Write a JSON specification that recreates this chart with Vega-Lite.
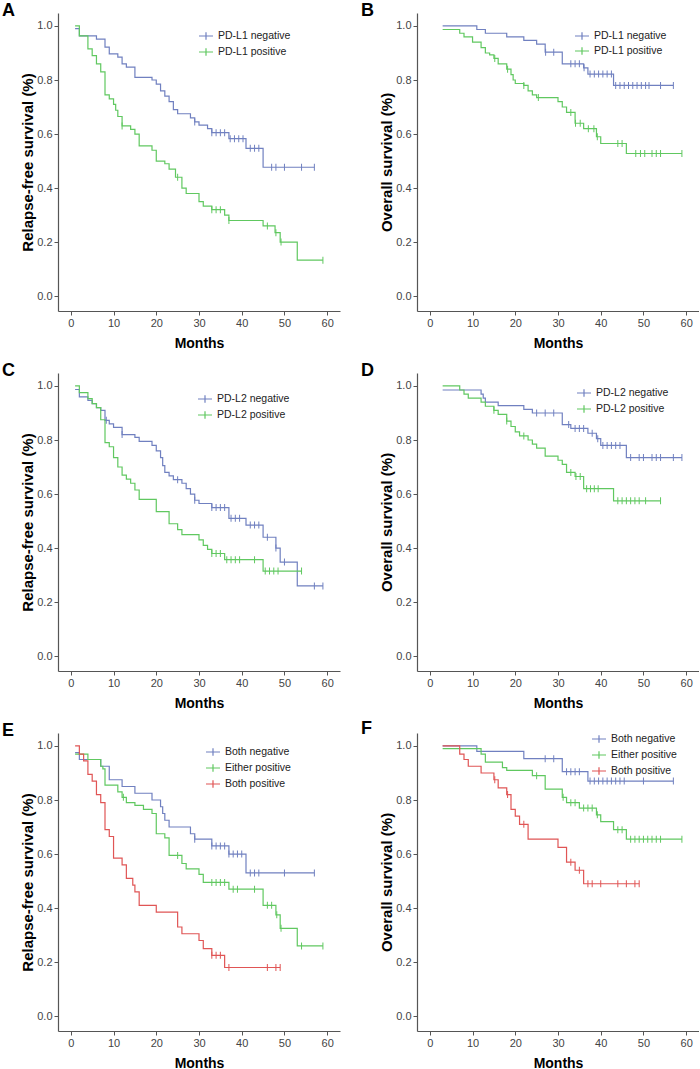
{
"$schema": "https://vega.github.io/schema/vega-lite/v6.json",
"background": "white",
"padding": {"left": 2, "top": 2, "right": 0, "bottom": 0},
"bounds": "flush",
"columns": 2,
"spacing": {"row": 62, "column": 77},
"resolve": {"scale": {"color": "independent", "x": "independent", "y": "independent"}, "legend": {"color": "independent"}, "axis": {"x": "independent", "y": "independent"}},
"config": {
  "view": {"stroke": null},
  "font": "Liberation Sans",
  "axis": {"grid": false, "domainColor": "#555", "tickColor": "#555", "labelColor": "#444", "labelFont": "Liberation Sans", "labelFontSize": 11, "titleFont": "Liberation Sans", "titleFontWeight": "bold", "titleColor": "#000", "tickSize": 4, "domainWidth": 1.2, "tickWidth": 1},
  "axisX": {"titleFontSize": 14, "titlePadding": 8},
  "axisY": {"titleFontSize": 15, "titlePadding": 1},
  "legend": {"orient": "none", "title": null, "padding": 0, "symbolType": "M-1,0H1M0,-0.55V0.55", "symbolSize": 196, "symbolStrokeWidth": 1, "labelFont": "Liberation Sans", "labelFontSize": 10.5, "labelColor": "#222", "labelOffset": 4, "rowPadding": 1},
  "title": {"anchor": "start", "frame": "group", "orient": "top", "offset": 0, "baseline": "alphabetic", "dx": -56, "dy": 11, "fontSize": 18, "fontWeight": "bold", "font": "Liberation Sans", "color": "#000"},
  "line": {"interpolate": "step-after", "strokeWidth": 1.2},
  "tick": {"orient": "vertical", "size": 7, "thickness": 1, "opacity": 1}
},
"concat": [
{
 "title": {"text": "A"},
 "data": {"name": "A"},
 "width": 282, "height": 298,
 "encoding": {
  "x": {"field": "t", "type": "quantitative", "scale": {"domain": [-3, 63], "nice": false, "zero": false}, "axis": {"title": "Months", "values": [0, 10, 20, 30, 40, 50, 60]}},
  "y": {"field": "s", "type": "quantitative", "scale": {"domain": [-0.055, 1.048], "nice": false}, "axis": {"title": "Relapse-free survival (%)", "values": [0, 0.2, 0.4, 0.6, 0.8, 1.0], "format": ".1f"}},
  "color": {"field": "g", "type": "nominal", "scale": {"domain": ["PD-L1 negative", "PD-L1 positive"], "range": ["#7080c0", "#60c860"]}, "legend": {"legendX": 140, "legendY": 15}}
 },
 "layer": [
  {"transform": [{"filter": "datum.c == 0"}], "mark": {"type": "line"}},
  {"transform": [{"filter": "datum.c == 1"}], "mark": {"type": "tick"}}
 ]
},
{
 "title": {"text": "B"},
 "data": {"name": "B"},
 "width": 282, "height": 298,
 "encoding": {
  "x": {"field": "t", "type": "quantitative", "scale": {"domain": [-3, 63], "nice": false, "zero": false}, "axis": {"title": "Months", "values": [0, 10, 20, 30, 40, 50, 60]}},
  "y": {"field": "s", "type": "quantitative", "scale": {"domain": [-0.055, 1.048], "nice": false}, "axis": {"title": "Overall survival (%)", "values": [0, 0.2, 0.4, 0.6, 0.8, 1.0], "format": ".1f"}},
  "color": {"field": "g", "type": "nominal", "scale": {"domain": ["PD-L1 negative", "PD-L1 positive"], "range": ["#7080c0", "#60c860"]}, "legend": {"legendX": 157, "legendY": 15, "rowPadding": -2}}
 },
 "layer": [
  {"transform": [{"filter": "datum.c == 0"}], "mark": {"type": "line"}},
  {"transform": [{"filter": "datum.c == 1"}], "mark": {"type": "tick"}}
 ]
},
{
 "title": {"text": "C"},
 "data": {"name": "C"},
 "width": 282, "height": 298,
 "encoding": {
  "x": {"field": "t", "type": "quantitative", "scale": {"domain": [-3, 63], "nice": false, "zero": false}, "axis": {"title": "Months", "values": [0, 10, 20, 30, 40, 50, 60]}},
  "y": {"field": "s", "type": "quantitative", "scale": {"domain": [-0.055, 1.048], "nice": false}, "axis": {"title": "Relapse-free survival (%)", "values": [0, 0.2, 0.4, 0.6, 0.8, 1.0], "format": ".1f"}},
  "color": {"field": "g", "type": "nominal", "scale": {"domain": ["PD-L2 negative", "PD-L2 positive"], "range": ["#7080c0", "#60c860"]}, "legend": {"legendX": 139, "legendY": 18}}
 },
 "layer": [
  {"transform": [{"filter": "datum.c == 0"}], "mark": {"type": "line"}},
  {"transform": [{"filter": "datum.c == 1"}], "mark": {"type": "tick"}}
 ]
},
{
 "title": {"text": "D"},
 "data": {"name": "D"},
 "width": 282, "height": 298,
 "encoding": {
  "x": {"field": "t", "type": "quantitative", "scale": {"domain": [-3, 63], "nice": false, "zero": false}, "axis": {"title": "Months", "values": [0, 10, 20, 30, 40, 50, 60]}},
  "y": {"field": "s", "type": "quantitative", "scale": {"domain": [-0.055, 1.048], "nice": false}, "axis": {"title": "Overall survival (%)", "values": [0, 0.2, 0.4, 0.6, 0.8, 1.0], "format": ".1f"}},
  "color": {"field": "g", "type": "nominal", "scale": {"domain": ["PD-L2 negative", "PD-L2 positive"], "range": ["#7080c0", "#60c860"]}, "legend": {"legendX": 159, "legendY": 12}}
 },
 "layer": [
  {"transform": [{"filter": "datum.c == 0"}], "mark": {"type": "line"}},
  {"transform": [{"filter": "datum.c == 1"}], "mark": {"type": "tick"}}
 ]
},
{
 "title": {"text": "E"},
 "data": {"name": "E"},
 "width": 282, "height": 298,
 "encoding": {
  "x": {"field": "t", "type": "quantitative", "scale": {"domain": [-3, 63], "nice": false, "zero": false}, "axis": {"title": "Months", "values": [0, 10, 20, 30, 40, 50, 60]}},
  "y": {"field": "s", "type": "quantitative", "scale": {"domain": [-0.055, 1.048], "nice": false}, "axis": {"title": "Relapse-free survival (%)", "values": [0, 0.2, 0.4, 0.6, 0.8, 1.0], "format": ".1f"}},
  "color": {"field": "g", "type": "nominal", "scale": {"domain": ["Both negative", "Either positive", "Both positive"], "range": ["#7080c0", "#60c860", "#e05555"]}, "legend": {"legendX": 147, "legendY": 11}}
 },
 "layer": [
  {"transform": [{"filter": "datum.c == 0"}], "mark": {"type": "line"}},
  {"transform": [{"filter": "datum.c == 1"}], "mark": {"type": "tick"}}
 ]
},
{
 "title": {"text": "F"},
 "data": {"name": "F"},
 "width": 282, "height": 298,
 "encoding": {
  "x": {"field": "t", "type": "quantitative", "scale": {"domain": [-3, 63], "nice": false, "zero": false}, "axis": {"title": "Months", "values": [0, 10, 20, 30, 40, 50, 60]}},
  "y": {"field": "s", "type": "quantitative", "scale": {"domain": [-0.055, 1.048], "nice": false}, "axis": {"title": "Overall survival (%)", "values": [0, 0.2, 0.4, 0.6, 0.8, 1.0], "format": ".1f"}},
  "color": {"field": "g", "type": "nominal", "scale": {"domain": ["Both negative", "Either positive", "Both positive"], "range": ["#7080c0", "#60c860", "#e05555"]}, "legend": {"legendX": 174, "legendY": -2}}
 },
 "layer": [
  {"transform": [{"filter": "datum.c == 0"}], "mark": {"type": "line"}},
  {"transform": [{"filter": "datum.c == 1"}], "mark": {"type": "tick"}}
 ]
}
],
"datasets": {
"A": [
{"g":"PD-L1 negative","t":1,"s":0.99,"c":0},{"g":"PD-L1 negative","t":2,"s":0.963,"c":0},{"g":"PD-L1 negative","t":6,"s":0.951,"c":0},{"g":"PD-L1 negative","t":8,"s":0.922,"c":0},{"g":"PD-L1 negative","t":9,"s":0.897,"c":0},{"g":"PD-L1 negative","t":11,"s":0.885,"c":0},{"g":"PD-L1 negative","t":12,"s":0.86,"c":0},{"g":"PD-L1 negative","t":13,"s":0.848,"c":0},{"g":"PD-L1 negative","t":15,"s":0.81,"c":0},{"g":"PD-L1 negative","t":19,"s":0.8,"c":0},{"g":"PD-L1 negative","t":20,"s":0.785,"c":0},{"g":"PD-L1 negative","t":21,"s":0.76,"c":0},{"g":"PD-L1 negative","t":22,"s":0.74,"c":0},{"g":"PD-L1 negative","t":23,"s":0.72,"c":0},{"g":"PD-L1 negative","t":24,"s":0.69,"c":0},{"g":"PD-L1 negative","t":25,"s":0.675,"c":0},{"g":"PD-L1 negative","t":28,"s":0.66,"c":0},{"g":"PD-L1 negative","t":29,"s":0.645,"c":0},{"g":"PD-L1 negative","t":30,"s":0.633,"c":0},{"g":"PD-L1 negative","t":32,"s":0.62,"c":0},{"g":"PD-L1 negative","t":33,"s":0.605,"c":0},{"g":"PD-L1 negative","t":37,"s":0.583,"c":0},{"g":"PD-L1 negative","t":41,"s":0.547,"c":0},{"g":"PD-L1 negative","t":45,"s":0.477,"c":0},{"g":"PD-L1 negative","t":57,"s":0.477,"c":0},
{"g":"PD-L1 negative","t":29,"s":0.645,"c":1},{"g":"PD-L1 negative","t":33,"s":0.605,"c":1},{"g":"PD-L1 negative","t":34,"s":0.605,"c":1},{"g":"PD-L1 negative","t":35,"s":0.605,"c":1},{"g":"PD-L1 negative","t":36,"s":0.605,"c":1},{"g":"PD-L1 negative","t":37.3,"s":0.583,"c":1},{"g":"PD-L1 negative","t":38.3,"s":0.583,"c":1},{"g":"PD-L1 negative","t":39.3,"s":0.583,"c":1},{"g":"PD-L1 negative","t":40.3,"s":0.583,"c":1},{"g":"PD-L1 negative","t":42,"s":0.547,"c":1},{"g":"PD-L1 negative","t":43,"s":0.547,"c":1},{"g":"PD-L1 negative","t":44,"s":0.547,"c":1},{"g":"PD-L1 negative","t":47,"s":0.477,"c":1},{"g":"PD-L1 negative","t":48,"s":0.477,"c":1},{"g":"PD-L1 negative","t":50,"s":0.477,"c":1},{"g":"PD-L1 negative","t":54,"s":0.477,"c":1},{"g":"PD-L1 negative","t":57,"s":0.477,"c":1},
{"g":"PD-L1 positive","t":1,"s":1.0,"c":0},{"g":"PD-L1 positive","t":2,"s":0.963,"c":0},{"g":"PD-L1 positive","t":4,"s":0.915,"c":0},{"g":"PD-L1 positive","t":5,"s":0.89,"c":0},{"g":"PD-L1 positive","t":6,"s":0.86,"c":0},{"g":"PD-L1 positive","t":7,"s":0.83,"c":0},{"g":"PD-L1 positive","t":8,"s":0.745,"c":0},{"g":"PD-L1 positive","t":9,"s":0.73,"c":0},{"g":"PD-L1 positive","t":10,"s":0.71,"c":0},{"g":"PD-L1 positive","t":10.5,"s":0.688,"c":0},{"g":"PD-L1 positive","t":11,"s":0.665,"c":0},{"g":"PD-L1 positive","t":12,"s":0.63,"c":0},{"g":"PD-L1 positive","t":14,"s":0.617,"c":0},{"g":"PD-L1 positive","t":15,"s":0.6,"c":0},{"g":"PD-L1 positive","t":16,"s":0.556,"c":0},{"g":"PD-L1 positive","t":19,"s":0.54,"c":0},{"g":"PD-L1 positive","t":20,"s":0.5,"c":0},{"g":"PD-L1 positive","t":22,"s":0.49,"c":0},{"g":"PD-L1 positive","t":23,"s":0.47,"c":0},{"g":"PD-L1 positive","t":24.5,"s":0.44,"c":0},{"g":"PD-L1 positive","t":26,"s":0.4,"c":0},{"g":"PD-L1 positive","t":27,"s":0.38,"c":0},{"g":"PD-L1 positive","t":30,"s":0.35,"c":0},{"g":"PD-L1 positive","t":31,"s":0.333,"c":0},{"g":"PD-L1 positive","t":33,"s":0.32,"c":0},{"g":"PD-L1 positive","t":36,"s":0.3,"c":0},{"g":"PD-L1 positive","t":37,"s":0.28,"c":0},{"g":"PD-L1 positive","t":45,"s":0.26,"c":0},{"g":"PD-L1 positive","t":47.8,"s":0.235,"c":0},{"g":"PD-L1 positive","t":49,"s":0.2,"c":0},{"g":"PD-L1 positive","t":53,"s":0.133,"c":0},{"g":"PD-L1 positive","t":59,"s":0.133,"c":0},
{"g":"PD-L1 positive","t":12,"s":0.63,"c":1},{"g":"PD-L1 positive","t":25,"s":0.44,"c":1},{"g":"PD-L1 positive","t":33,"s":0.32,"c":1},{"g":"PD-L1 positive","t":34,"s":0.32,"c":1},{"g":"PD-L1 positive","t":35,"s":0.32,"c":1},{"g":"PD-L1 positive","t":37,"s":0.28,"c":1},{"g":"PD-L1 positive","t":46,"s":0.26,"c":1},{"g":"PD-L1 positive","t":48,"s":0.235,"c":1},{"g":"PD-L1 positive","t":49.2,"s":0.2,"c":1},{"g":"PD-L1 positive","t":59,"s":0.133,"c":1}
],
"B": [
{"g":"PD-L1 negative","t":3,"s":1.0,"c":0},{"g":"PD-L1 negative","t":11,"s":0.987,"c":0},{"g":"PD-L1 negative","t":13,"s":0.973,"c":0},{"g":"PD-L1 negative","t":18,"s":0.96,"c":0},{"g":"PD-L1 negative","t":22,"s":0.947,"c":0},{"g":"PD-L1 negative","t":25,"s":0.933,"c":0},{"g":"PD-L1 negative","t":27,"s":0.903,"c":0},{"g":"PD-L1 negative","t":31,"s":0.86,"c":0},{"g":"PD-L1 negative","t":36,"s":0.845,"c":0},{"g":"PD-L1 negative","t":37,"s":0.822,"c":0},{"g":"PD-L1 negative","t":43,"s":0.78,"c":0},{"g":"PD-L1 negative","t":57,"s":0.78,"c":0},
{"g":"PD-L1 negative","t":27.1,"s":0.903,"c":1},{"g":"PD-L1 negative","t":29,"s":0.903,"c":1},{"g":"PD-L1 negative","t":33,"s":0.86,"c":1},{"g":"PD-L1 negative","t":34,"s":0.86,"c":1},{"g":"PD-L1 negative","t":35,"s":0.86,"c":1},{"g":"PD-L1 negative","t":36.1,"s":0.845,"c":1},{"g":"PD-L1 negative","t":37.5,"s":0.822,"c":1},{"g":"PD-L1 negative","t":38.5,"s":0.822,"c":1},{"g":"PD-L1 negative","t":39.5,"s":0.822,"c":1},{"g":"PD-L1 negative","t":40.5,"s":0.822,"c":1},{"g":"PD-L1 negative","t":41.5,"s":0.822,"c":1},{"g":"PD-L1 negative","t":42.5,"s":0.822,"c":1},{"g":"PD-L1 negative","t":43.5,"s":0.78,"c":1},{"g":"PD-L1 negative","t":44.5,"s":0.78,"c":1},{"g":"PD-L1 negative","t":45.5,"s":0.78,"c":1},{"g":"PD-L1 negative","t":46.5,"s":0.78,"c":1},{"g":"PD-L1 negative","t":47.5,"s":0.78,"c":1},{"g":"PD-L1 negative","t":48.5,"s":0.78,"c":1},{"g":"PD-L1 negative","t":49.5,"s":0.78,"c":1},{"g":"PD-L1 negative","t":50.5,"s":0.78,"c":1},{"g":"PD-L1 negative","t":51.3,"s":0.78,"c":1},{"g":"PD-L1 negative","t":54,"s":0.78,"c":1},{"g":"PD-L1 negative","t":57,"s":0.78,"c":1},
{"g":"PD-L1 positive","t":3,"s":0.987,"c":0},{"g":"PD-L1 positive","t":7,"s":0.973,"c":0},{"g":"PD-L1 positive","t":8,"s":0.96,"c":0},{"g":"PD-L1 positive","t":10,"s":0.94,"c":0},{"g":"PD-L1 positive","t":12,"s":0.92,"c":0},{"g":"PD-L1 positive","t":13,"s":0.9,"c":0},{"g":"PD-L1 positive","t":14,"s":0.893,"c":0},{"g":"PD-L1 positive","t":15,"s":0.88,"c":0},{"g":"PD-L1 positive","t":16,"s":0.86,"c":0},{"g":"PD-L1 positive","t":18,"s":0.84,"c":0},{"g":"PD-L1 positive","t":19,"s":0.82,"c":0},{"g":"PD-L1 positive","t":19.5,"s":0.8,"c":0},{"g":"PD-L1 positive","t":20,"s":0.787,"c":0},{"g":"PD-L1 positive","t":22,"s":0.78,"c":0},{"g":"PD-L1 positive","t":23,"s":0.76,"c":0},{"g":"PD-L1 positive","t":24,"s":0.745,"c":0},{"g":"PD-L1 positive","t":25,"s":0.735,"c":0},{"g":"PD-L1 positive","t":30,"s":0.72,"c":0},{"g":"PD-L1 positive","t":31,"s":0.7,"c":0},{"g":"PD-L1 positive","t":32,"s":0.68,"c":0},{"g":"PD-L1 positive","t":34,"s":0.64,"c":0},{"g":"PD-L1 positive","t":36,"s":0.62,"c":0},{"g":"PD-L1 positive","t":39,"s":0.59,"c":0},{"g":"PD-L1 positive","t":40,"s":0.565,"c":0},{"g":"PD-L1 positive","t":46,"s":0.528,"c":0},{"g":"PD-L1 positive","t":59,"s":0.528,"c":0},
{"g":"PD-L1 positive","t":15.2,"s":0.88,"c":1},{"g":"PD-L1 positive","t":18.2,"s":0.84,"c":1},{"g":"PD-L1 positive","t":22,"s":0.78,"c":1},{"g":"PD-L1 positive","t":25.4,"s":0.735,"c":1},{"g":"PD-L1 positive","t":33,"s":0.68,"c":1},{"g":"PD-L1 positive","t":34.1,"s":0.64,"c":1},{"g":"PD-L1 positive","t":35.2,"s":0.64,"c":1},{"g":"PD-L1 positive","t":37.1,"s":0.62,"c":1},{"g":"PD-L1 positive","t":38.4,"s":0.62,"c":1},{"g":"PD-L1 positive","t":39.2,"s":0.59,"c":1},{"g":"PD-L1 positive","t":44,"s":0.565,"c":1},{"g":"PD-L1 positive","t":45,"s":0.565,"c":1},{"g":"PD-L1 positive","t":48.2,"s":0.528,"c":1},{"g":"PD-L1 positive","t":49.3,"s":0.528,"c":1},{"g":"PD-L1 positive","t":50.3,"s":0.528,"c":1},{"g":"PD-L1 positive","t":52,"s":0.528,"c":1},{"g":"PD-L1 positive","t":53,"s":0.528,"c":1},{"g":"PD-L1 positive","t":54,"s":0.528,"c":1},{"g":"PD-L1 positive","t":59,"s":0.528,"c":1}
],
"C": [
{"g":"PD-L2 negative","t":1,"s":0.987,"c":0},{"g":"PD-L2 negative","t":2,"s":0.96,"c":0},{"g":"PD-L2 negative","t":4,"s":0.947,"c":0},{"g":"PD-L2 negative","t":5,"s":0.935,"c":0},{"g":"PD-L2 negative","t":6,"s":0.92,"c":0},{"g":"PD-L2 negative","t":7,"s":0.91,"c":0},{"g":"PD-L2 negative","t":8,"s":0.873,"c":0},{"g":"PD-L2 negative","t":9,"s":0.86,"c":0},{"g":"PD-L2 negative","t":10,"s":0.847,"c":0},{"g":"PD-L2 negative","t":12,"s":0.82,"c":0},{"g":"PD-L2 negative","t":15,"s":0.81,"c":0},{"g":"PD-L2 negative","t":16,"s":0.795,"c":0},{"g":"PD-L2 negative","t":19,"s":0.78,"c":0},{"g":"PD-L2 negative","t":20,"s":0.76,"c":0},{"g":"PD-L2 negative","t":21,"s":0.735,"c":0},{"g":"PD-L2 negative","t":21.5,"s":0.705,"c":0},{"g":"PD-L2 negative","t":22,"s":0.68,"c":0},{"g":"PD-L2 negative","t":23,"s":0.667,"c":0},{"g":"PD-L2 negative","t":24,"s":0.653,"c":0},{"g":"PD-L2 negative","t":26,"s":0.64,"c":0},{"g":"PD-L2 negative","t":27,"s":0.62,"c":0},{"g":"PD-L2 negative","t":28,"s":0.6,"c":0},{"g":"PD-L2 negative","t":29,"s":0.577,"c":0},{"g":"PD-L2 negative","t":30,"s":0.565,"c":0},{"g":"PD-L2 negative","t":33,"s":0.55,"c":0},{"g":"PD-L2 negative","t":37,"s":0.51,"c":0},{"g":"PD-L2 negative","t":41,"s":0.485,"c":0},{"g":"PD-L2 negative","t":45,"s":0.44,"c":0},{"g":"PD-L2 negative","t":48,"s":0.4,"c":0},{"g":"PD-L2 negative","t":49,"s":0.348,"c":0},{"g":"PD-L2 negative","t":53,"s":0.26,"c":0},{"g":"PD-L2 negative","t":59,"s":0.26,"c":0},
{"g":"PD-L2 negative","t":8.3,"s":0.873,"c":1},{"g":"PD-L2 negative","t":12,"s":0.82,"c":1},{"g":"PD-L2 negative","t":25,"s":0.653,"c":1},{"g":"PD-L2 negative","t":29,"s":0.577,"c":1},{"g":"PD-L2 negative","t":33,"s":0.55,"c":1},{"g":"PD-L2 negative","t":34,"s":0.55,"c":1},{"g":"PD-L2 negative","t":35,"s":0.55,"c":1},{"g":"PD-L2 negative","t":36,"s":0.55,"c":1},{"g":"PD-L2 negative","t":37.5,"s":0.51,"c":1},{"g":"PD-L2 negative","t":38.5,"s":0.51,"c":1},{"g":"PD-L2 negative","t":39.5,"s":0.51,"c":1},{"g":"PD-L2 negative","t":42,"s":0.485,"c":1},{"g":"PD-L2 negative","t":43,"s":0.485,"c":1},{"g":"PD-L2 negative","t":44,"s":0.485,"c":1},{"g":"PD-L2 negative","t":46,"s":0.44,"c":1},{"g":"PD-L2 negative","t":48,"s":0.4,"c":1},{"g":"PD-L2 negative","t":50,"s":0.348,"c":1},{"g":"PD-L2 negative","t":57,"s":0.26,"c":1},{"g":"PD-L2 negative","t":59,"s":0.26,"c":1},
{"g":"PD-L2 positive","t":1,"s":1.0,"c":0},{"g":"PD-L2 positive","t":2,"s":0.975,"c":0},{"g":"PD-L2 positive","t":4,"s":0.953,"c":0},{"g":"PD-L2 positive","t":5,"s":0.935,"c":0},{"g":"PD-L2 positive","t":6,"s":0.92,"c":0},{"g":"PD-L2 positive","t":7,"s":0.875,"c":0},{"g":"PD-L2 positive","t":8,"s":0.79,"c":0},{"g":"PD-L2 positive","t":9,"s":0.775,"c":0},{"g":"PD-L2 positive","t":10,"s":0.735,"c":0},{"g":"PD-L2 positive","t":11,"s":0.7,"c":0},{"g":"PD-L2 positive","t":12,"s":0.67,"c":0},{"g":"PD-L2 positive","t":13,"s":0.655,"c":0},{"g":"PD-L2 positive","t":14,"s":0.64,"c":0},{"g":"PD-L2 positive","t":15,"s":0.615,"c":0},{"g":"PD-L2 positive","t":16,"s":0.58,"c":0},{"g":"PD-L2 positive","t":20,"s":0.535,"c":0},{"g":"PD-L2 positive","t":23,"s":0.49,"c":0},{"g":"PD-L2 positive","t":25,"s":0.468,"c":0},{"g":"PD-L2 positive","t":26,"s":0.45,"c":0},{"g":"PD-L2 positive","t":30,"s":0.43,"c":0},{"g":"PD-L2 positive","t":31,"s":0.41,"c":0},{"g":"PD-L2 positive","t":32,"s":0.395,"c":0},{"g":"PD-L2 positive","t":33,"s":0.38,"c":0},{"g":"PD-L2 positive","t":36,"s":0.357,"c":0},{"g":"PD-L2 positive","t":45,"s":0.315,"c":0},{"g":"PD-L2 positive","t":54,"s":0.315,"c":0},
{"g":"PD-L2 positive","t":33,"s":0.38,"c":1},{"g":"PD-L2 positive","t":34,"s":0.38,"c":1},{"g":"PD-L2 positive","t":35,"s":0.38,"c":1},{"g":"PD-L2 positive","t":36.5,"s":0.357,"c":1},{"g":"PD-L2 positive","t":37.5,"s":0.357,"c":1},{"g":"PD-L2 positive","t":38.5,"s":0.357,"c":1},{"g":"PD-L2 positive","t":39.5,"s":0.357,"c":1},{"g":"PD-L2 positive","t":43,"s":0.357,"c":1},{"g":"PD-L2 positive","t":45.5,"s":0.315,"c":1},{"g":"PD-L2 positive","t":46.5,"s":0.315,"c":1},{"g":"PD-L2 positive","t":47.5,"s":0.315,"c":1},{"g":"PD-L2 positive","t":48.5,"s":0.315,"c":1},{"g":"PD-L2 positive","t":54,"s":0.315,"c":1}
],
"D": [
{"g":"PD-L2 negative","t":3,"s":0.985,"c":0},{"g":"PD-L2 negative","t":12,"s":0.97,"c":0},{"g":"PD-L2 negative","t":12.5,"s":0.955,"c":0},{"g":"PD-L2 negative","t":13,"s":0.94,"c":0},{"g":"PD-L2 negative","t":16,"s":0.927,"c":0},{"g":"PD-L2 negative","t":22,"s":0.913,"c":0},{"g":"PD-L2 negative","t":24,"s":0.9,"c":0},{"g":"PD-L2 negative","t":31,"s":0.857,"c":0},{"g":"PD-L2 negative","t":33,"s":0.843,"c":0},{"g":"PD-L2 negative","t":37,"s":0.825,"c":0},{"g":"PD-L2 negative","t":39,"s":0.805,"c":0},{"g":"PD-L2 negative","t":40,"s":0.78,"c":0},{"g":"PD-L2 negative","t":46,"s":0.735,"c":0},{"g":"PD-L2 negative","t":59,"s":0.735,"c":0},
{"g":"PD-L2 negative","t":25,"s":0.9,"c":1},{"g":"PD-L2 negative","t":27,"s":0.9,"c":1},{"g":"PD-L2 negative","t":29,"s":0.9,"c":1},{"g":"PD-L2 negative","t":32.5,"s":0.857,"c":1},{"g":"PD-L2 negative","t":34,"s":0.843,"c":1},{"g":"PD-L2 negative","t":35,"s":0.843,"c":1},{"g":"PD-L2 negative","t":36,"s":0.843,"c":1},{"g":"PD-L2 negative","t":38,"s":0.825,"c":1},{"g":"PD-L2 negative","t":39.3,"s":0.805,"c":1},{"g":"PD-L2 negative","t":40.5,"s":0.78,"c":1},{"g":"PD-L2 negative","t":41.5,"s":0.78,"c":1},{"g":"PD-L2 negative","t":42.5,"s":0.78,"c":1},{"g":"PD-L2 negative","t":43.5,"s":0.78,"c":1},{"g":"PD-L2 negative","t":44.5,"s":0.78,"c":1},{"g":"PD-L2 negative","t":47,"s":0.735,"c":1},{"g":"PD-L2 negative","t":49,"s":0.735,"c":1},{"g":"PD-L2 negative","t":50,"s":0.735,"c":1},{"g":"PD-L2 negative","t":52,"s":0.735,"c":1},{"g":"PD-L2 negative","t":53,"s":0.735,"c":1},{"g":"PD-L2 negative","t":54,"s":0.735,"c":1},{"g":"PD-L2 negative","t":57,"s":0.735,"c":1},{"g":"PD-L2 negative","t":59,"s":0.735,"c":1},
{"g":"PD-L2 positive","t":3,"s":1.0,"c":0},{"g":"PD-L2 positive","t":7,"s":0.985,"c":0},{"g":"PD-L2 positive","t":8,"s":0.97,"c":0},{"g":"PD-L2 positive","t":9,"s":0.955,"c":0},{"g":"PD-L2 positive","t":12,"s":0.94,"c":0},{"g":"PD-L2 positive","t":13,"s":0.925,"c":0},{"g":"PD-L2 positive","t":15,"s":0.91,"c":0},{"g":"PD-L2 positive","t":16,"s":0.895,"c":0},{"g":"PD-L2 positive","t":18,"s":0.87,"c":0},{"g":"PD-L2 positive","t":19,"s":0.85,"c":0},{"g":"PD-L2 positive","t":20,"s":0.83,"c":0},{"g":"PD-L2 positive","t":21,"s":0.815,"c":0},{"g":"PD-L2 positive","t":23,"s":0.8,"c":0},{"g":"PD-L2 positive","t":24,"s":0.785,"c":0},{"g":"PD-L2 positive","t":25,"s":0.77,"c":0},{"g":"PD-L2 positive","t":27,"s":0.74,"c":0},{"g":"PD-L2 positive","t":30,"s":0.725,"c":0},{"g":"PD-L2 positive","t":31,"s":0.71,"c":0},{"g":"PD-L2 positive","t":32,"s":0.68,"c":0},{"g":"PD-L2 positive","t":34,"s":0.665,"c":0},{"g":"PD-L2 positive","t":36,"s":0.62,"c":0},{"g":"PD-L2 positive","t":43,"s":0.575,"c":0},{"g":"PD-L2 positive","t":54,"s":0.575,"c":0},
{"g":"PD-L2 positive","t":15,"s":0.91,"c":1},{"g":"PD-L2 positive","t":18,"s":0.87,"c":1},{"g":"PD-L2 positive","t":22,"s":0.815,"c":1},{"g":"PD-L2 positive","t":33,"s":0.68,"c":1},{"g":"PD-L2 positive","t":34.2,"s":0.665,"c":1},{"g":"PD-L2 positive","t":35.2,"s":0.665,"c":1},{"g":"PD-L2 positive","t":36.7,"s":0.62,"c":1},{"g":"PD-L2 positive","t":37.6,"s":0.62,"c":1},{"g":"PD-L2 positive","t":38.5,"s":0.62,"c":1},{"g":"PD-L2 positive","t":39.4,"s":0.62,"c":1},{"g":"PD-L2 positive","t":44,"s":0.575,"c":1},{"g":"PD-L2 positive","t":45,"s":0.575,"c":1},{"g":"PD-L2 positive","t":46,"s":0.575,"c":1},{"g":"PD-L2 positive","t":47,"s":0.575,"c":1},{"g":"PD-L2 positive","t":48,"s":0.575,"c":1},{"g":"PD-L2 positive","t":49,"s":0.575,"c":1},{"g":"PD-L2 positive","t":50.5,"s":0.575,"c":1},{"g":"PD-L2 positive","t":54,"s":0.575,"c":1}
],
"E": [
{"g":"Both negative","t":1,"s":0.975,"c":0},{"g":"Both negative","t":2,"s":0.95,"c":0},{"g":"Both negative","t":7,"s":0.925,"c":0},{"g":"Both negative","t":9,"s":0.875,"c":0},{"g":"Both negative","t":12,"s":0.85,"c":0},{"g":"Both negative","t":15,"s":0.825,"c":0},{"g":"Both negative","t":19,"s":0.8,"c":0},{"g":"Both negative","t":21,"s":0.775,"c":0},{"g":"Both negative","t":21.5,"s":0.75,"c":0},{"g":"Both negative","t":22,"s":0.725,"c":0},{"g":"Both negative","t":23,"s":0.7,"c":0},{"g":"Both negative","t":28,"s":0.675,"c":0},{"g":"Both negative","t":29,"s":0.655,"c":0},{"g":"Both negative","t":33,"s":0.63,"c":0},{"g":"Both negative","t":37,"s":0.6,"c":0},{"g":"Both negative","t":41,"s":0.53,"c":0},{"g":"Both negative","t":57,"s":0.53,"c":0},
{"g":"Both negative","t":29,"s":0.655,"c":1},{"g":"Both negative","t":33,"s":0.63,"c":1},{"g":"Both negative","t":34,"s":0.63,"c":1},{"g":"Both negative","t":35,"s":0.63,"c":1},{"g":"Both negative","t":36,"s":0.63,"c":1},{"g":"Both negative","t":37,"s":0.6,"c":1},{"g":"Both negative","t":38,"s":0.6,"c":1},{"g":"Both negative","t":39,"s":0.6,"c":1},{"g":"Both negative","t":40,"s":0.6,"c":1},{"g":"Both negative","t":42,"s":0.53,"c":1},{"g":"Both negative","t":43,"s":0.53,"c":1},{"g":"Both negative","t":44,"s":0.53,"c":1},{"g":"Both negative","t":50,"s":0.53,"c":1},{"g":"Both negative","t":57,"s":0.53,"c":1},
{"g":"Either positive","t":1,"s":0.97,"c":0},{"g":"Either positive","t":4,"s":0.95,"c":0},{"g":"Either positive","t":7,"s":0.925,"c":0},{"g":"Either positive","t":7.5,"s":0.915,"c":0},{"g":"Either positive","t":8,"s":0.855,"c":0},{"g":"Either positive","t":11,"s":0.83,"c":0},{"g":"Either positive","t":12,"s":0.81,"c":0},{"g":"Either positive","t":13,"s":0.79,"c":0},{"g":"Either positive","t":15,"s":0.78,"c":0},{"g":"Either positive","t":17,"s":0.765,"c":0},{"g":"Either positive","t":19,"s":0.75,"c":0},{"g":"Either positive","t":20,"s":0.675,"c":0},{"g":"Either positive","t":22,"s":0.66,"c":0},{"g":"Either positive","t":23,"s":0.595,"c":0},{"g":"Either positive","t":26,"s":0.565,"c":0},{"g":"Either positive","t":27,"s":0.545,"c":0},{"g":"Either positive","t":30,"s":0.525,"c":0},{"g":"Either positive","t":31,"s":0.495,"c":0},{"g":"Either positive","t":37,"s":0.47,"c":0},{"g":"Either positive","t":45,"s":0.41,"c":0},{"g":"Either positive","t":48,"s":0.375,"c":0},{"g":"Either positive","t":49,"s":0.325,"c":0},{"g":"Either positive","t":53,"s":0.26,"c":0},{"g":"Either positive","t":59,"s":0.26,"c":0},
{"g":"Either positive","t":12.3,"s":0.81,"c":1},{"g":"Either positive","t":25,"s":0.595,"c":1},{"g":"Either positive","t":33,"s":0.495,"c":1},{"g":"Either positive","t":34,"s":0.495,"c":1},{"g":"Either positive","t":35,"s":0.495,"c":1},{"g":"Either positive","t":36,"s":0.495,"c":1},{"g":"Either positive","t":38,"s":0.47,"c":1},{"g":"Either positive","t":39,"s":0.47,"c":1},{"g":"Either positive","t":43,"s":0.47,"c":1},{"g":"Either positive","t":46,"s":0.41,"c":1},{"g":"Either positive","t":47,"s":0.41,"c":1},{"g":"Either positive","t":48.2,"s":0.375,"c":1},{"g":"Either positive","t":49.2,"s":0.325,"c":1},{"g":"Either positive","t":54,"s":0.26,"c":1},{"g":"Either positive","t":59,"s":0.26,"c":1},
{"g":"Both positive","t":1,"s":1.0,"c":0},{"g":"Both positive","t":2,"s":0.97,"c":0},{"g":"Both positive","t":3,"s":0.945,"c":0},{"g":"Both positive","t":4,"s":0.895,"c":0},{"g":"Both positive","t":5,"s":0.87,"c":0},{"g":"Both positive","t":6,"s":0.82,"c":0},{"g":"Both positive","t":7,"s":0.79,"c":0},{"g":"Both positive","t":8,"s":0.69,"c":0},{"g":"Both positive","t":9,"s":0.665,"c":0},{"g":"Both positive","t":10,"s":0.585,"c":0},{"g":"Both positive","t":12,"s":0.56,"c":0},{"g":"Both positive","t":13,"s":0.51,"c":0},{"g":"Both positive","t":14.5,"s":0.485,"c":0},{"g":"Both positive","t":15,"s":0.46,"c":0},{"g":"Both positive","t":16,"s":0.41,"c":0},{"g":"Both positive","t":20,"s":0.385,"c":0},{"g":"Both positive","t":25,"s":0.33,"c":0},{"g":"Both positive","t":26,"s":0.305,"c":0},{"g":"Both positive","t":30,"s":0.28,"c":0},{"g":"Both positive","t":31,"s":0.25,"c":0},{"g":"Both positive","t":33,"s":0.225,"c":0},{"g":"Both positive","t":36,"s":0.18,"c":0},{"g":"Both positive","t":49,"s":0.18,"c":0},
{"g":"Both positive","t":33,"s":0.225,"c":1},{"g":"Both positive","t":34,"s":0.225,"c":1},{"g":"Both positive","t":35,"s":0.225,"c":1},{"g":"Both positive","t":37,"s":0.18,"c":1},{"g":"Both positive","t":46,"s":0.18,"c":1},{"g":"Both positive","t":48,"s":0.18,"c":1},{"g":"Both positive","t":49,"s":0.18,"c":1}
],
"F": [
{"g":"Both negative","t":3,"s":1.0,"c":0},{"g":"Both negative","t":11,"s":0.98,"c":0},{"g":"Both negative","t":22,"s":0.953,"c":0},{"g":"Both negative","t":31,"s":0.905,"c":0},{"g":"Both negative","t":37,"s":0.87,"c":0},{"g":"Both negative","t":57,"s":0.87,"c":0},
{"g":"Both negative","t":27,"s":0.953,"c":1},{"g":"Both negative","t":29,"s":0.953,"c":1},{"g":"Both negative","t":32,"s":0.905,"c":1},{"g":"Both negative","t":33,"s":0.905,"c":1},{"g":"Both negative","t":34,"s":0.905,"c":1},{"g":"Both negative","t":35,"s":0.905,"c":1},{"g":"Both negative","t":37.5,"s":0.87,"c":1},{"g":"Both negative","t":38.5,"s":0.87,"c":1},{"g":"Both negative","t":39.5,"s":0.87,"c":1},{"g":"Both negative","t":40.5,"s":0.87,"c":1},{"g":"Both negative","t":41.5,"s":0.87,"c":1},{"g":"Both negative","t":42.5,"s":0.87,"c":1},{"g":"Both negative","t":43.5,"s":0.87,"c":1},{"g":"Both negative","t":44.5,"s":0.87,"c":1},{"g":"Both negative","t":45.5,"s":0.87,"c":1},{"g":"Both negative","t":50,"s":0.87,"c":1},{"g":"Both negative","t":57,"s":0.87,"c":1},
{"g":"Either positive","t":3,"s":0.99,"c":0},{"g":"Either positive","t":12,"s":0.97,"c":0},{"g":"Either positive","t":13,"s":0.94,"c":0},{"g":"Either positive","t":17,"s":0.92,"c":0},{"g":"Either positive","t":18,"s":0.91,"c":0},{"g":"Either positive","t":24,"s":0.89,"c":0},{"g":"Either positive","t":27,"s":0.84,"c":0},{"g":"Either positive","t":31,"s":0.81,"c":0},{"g":"Either positive","t":32,"s":0.79,"c":0},{"g":"Either positive","t":35,"s":0.77,"c":0},{"g":"Either positive","t":39,"s":0.745,"c":0},{"g":"Either positive","t":40,"s":0.72,"c":0},{"g":"Either positive","t":43,"s":0.69,"c":0},{"g":"Either positive","t":46,"s":0.655,"c":0},{"g":"Either positive","t":59,"s":0.655,"c":0},
{"g":"Either positive","t":25,"s":0.89,"c":1},{"g":"Either positive","t":31.2,"s":0.81,"c":1},{"g":"Either positive","t":33,"s":0.79,"c":1},{"g":"Either positive","t":34,"s":0.79,"c":1},{"g":"Either positive","t":36,"s":0.77,"c":1},{"g":"Either positive","t":37,"s":0.77,"c":1},{"g":"Either positive","t":38,"s":0.77,"c":1},{"g":"Either positive","t":39.2,"s":0.745,"c":1},{"g":"Either positive","t":44,"s":0.69,"c":1},{"g":"Either positive","t":45,"s":0.69,"c":1},{"g":"Either positive","t":47,"s":0.655,"c":1},{"g":"Either positive","t":48,"s":0.655,"c":1},{"g":"Either positive","t":49,"s":0.655,"c":1},{"g":"Either positive","t":50,"s":0.655,"c":1},{"g":"Either positive","t":51,"s":0.655,"c":1},{"g":"Either positive","t":52,"s":0.655,"c":1},{"g":"Either positive","t":53,"s":0.655,"c":1},{"g":"Either positive","t":54,"s":0.655,"c":1},{"g":"Either positive","t":59,"s":0.655,"c":1},
{"g":"Both positive","t":3,"s":1.0,"c":0},{"g":"Both positive","t":7,"s":0.97,"c":0},{"g":"Both positive","t":8,"s":0.95,"c":0},{"g":"Both positive","t":9,"s":0.925,"c":0},{"g":"Both positive","t":12,"s":0.9,"c":0},{"g":"Both positive","t":15,"s":0.875,"c":0},{"g":"Both positive","t":16,"s":0.845,"c":0},{"g":"Both positive","t":18,"s":0.82,"c":0},{"g":"Both positive","t":19,"s":0.765,"c":0},{"g":"Both positive","t":20,"s":0.74,"c":0},{"g":"Both positive","t":21,"s":0.71,"c":0},{"g":"Both positive","t":23,"s":0.655,"c":0},{"g":"Both positive","t":30,"s":0.625,"c":0},{"g":"Both positive","t":32,"s":0.57,"c":0},{"g":"Both positive","t":34,"s":0.54,"c":0},{"g":"Both positive","t":36,"s":0.49,"c":0},{"g":"Both positive","t":49,"s":0.49,"c":0},
{"g":"Both positive","t":15.2,"s":0.875,"c":1},{"g":"Both positive","t":18.2,"s":0.82,"c":1},{"g":"Both positive","t":22,"s":0.71,"c":1},{"g":"Both positive","t":33,"s":0.57,"c":1},{"g":"Both positive","t":35,"s":0.54,"c":1},{"g":"Both positive","t":37,"s":0.49,"c":1},{"g":"Both positive","t":38,"s":0.49,"c":1},{"g":"Both positive","t":40,"s":0.49,"c":1},{"g":"Both positive","t":44,"s":0.49,"c":1},{"g":"Both positive","t":46,"s":0.49,"c":1},{"g":"Both positive","t":48,"s":0.49,"c":1},{"g":"Both positive","t":49,"s":0.49,"c":1}
]
}
}
